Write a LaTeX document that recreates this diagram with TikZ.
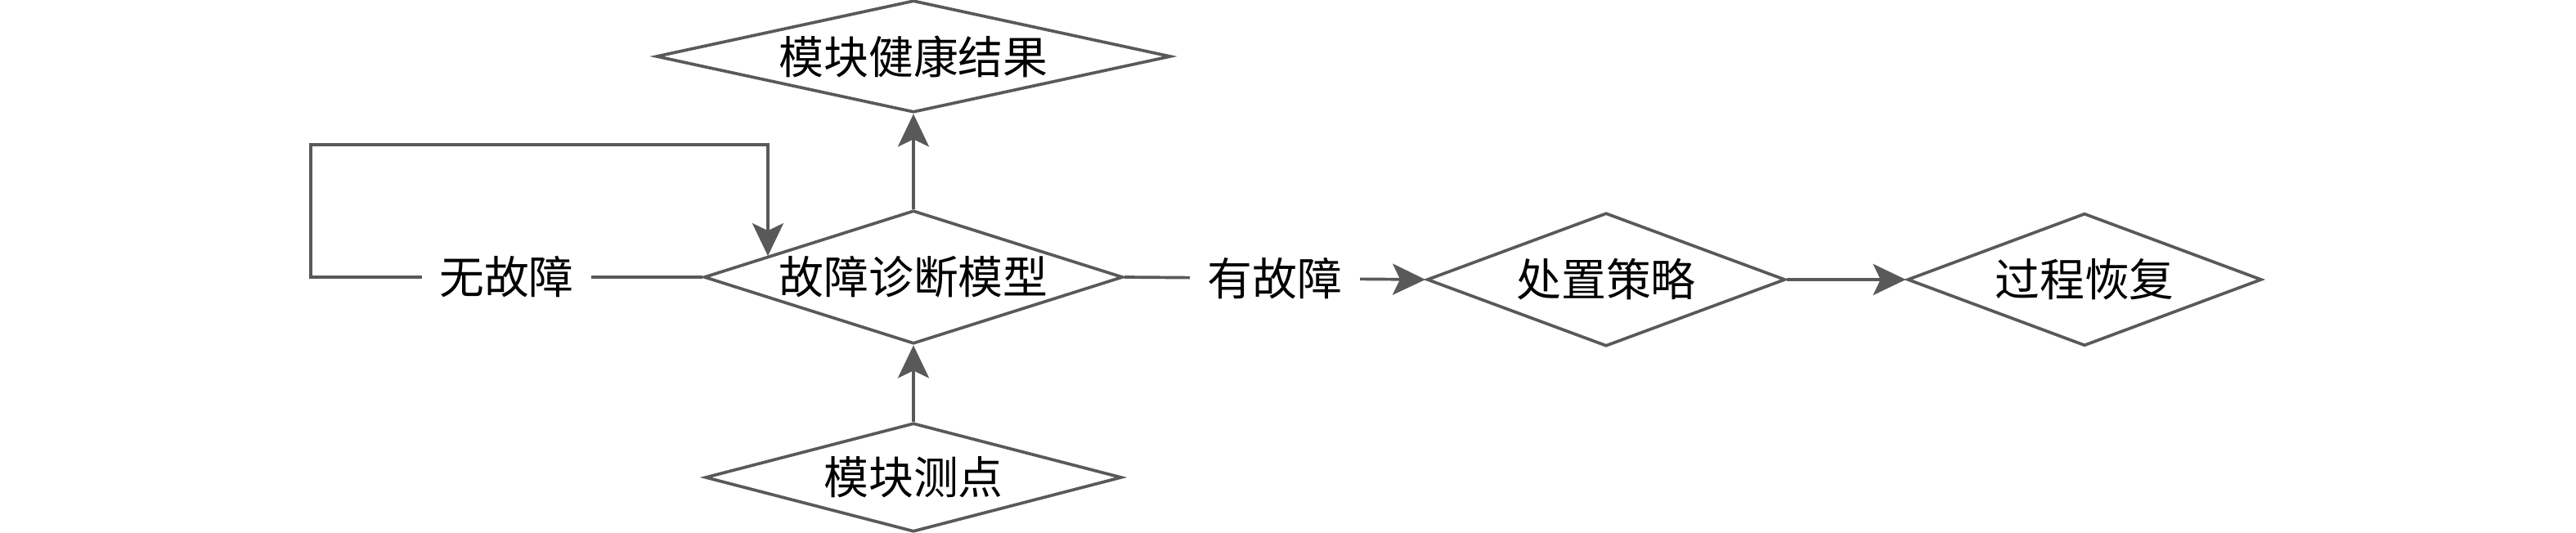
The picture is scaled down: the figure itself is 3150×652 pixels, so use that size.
\documentclass[tikz,border=0pt]{standalone}
\usepackage{fontspec}
\newfontfamily\cjk{Noto Sans CJK SC}
\usetikzlibrary{shapes.geometric,arrows.meta,calc}
\definecolor{lin}{RGB}{89,89,89}
\tikzset{
  dia/.style={diamond, draw=lin, line width=1.05pt, inner sep=0pt, text=black,
    font=\cjk\fontsize{15.6pt}{18pt}\selectfont},
  arr/.style={draw=lin, line width=1.05pt,
    -{Stealth[length=0.4cm, width=0.38cm, inset=0.09cm]}},
  lbl/.style={fill=white, inner sep=0pt, minimum width=2.07cm, minimum height=0.6cm,
    text=black, font=\cjk\fontsize{15.6pt}{18pt}\selectfont}
}
\begin{document}
\begin{tikzpicture}[x=0.01cm, y=-0.01cm]
\path[use as bounding box] (0,0) rectangle (3150,652);
\node[dia, minimum width=6.29cm, minimum height=1.37cm, aspect=4.6] (top) at (1117,69) {模块健康结果};
\node[dia, minimum width=5.12cm, minimum height=1.63cm, aspect=3.14] (mid) at (1117,339) {故障诊断模型};
\node[dia, minimum width=5.09cm, minimum height=1.33cm, aspect=3.83] (bot) at (1117,584) {模块测点};
\node[dia, minimum width=4.38cm, minimum height=1.63cm, aspect=2.69] (cz) at (1964,342) {处置策略};
\node[dia, minimum width=4.33cm, minimum height=1.62cm, aspect=2.67] (hf) at (2549,342) {过程恢复};
\coordinate (mtin) at ($(mid.west)!0.31!(mid.north)$);
\coordinate (lb) at (380,339);
\coordinate (lt) at (380,177);
\draw[arr] (mid.west) -- node[lbl]{无故障} (lb) -- (lt) -- (lt -| mtin) -- (mtin);
\draw[arr] (mid.north) -- (top.south);
\draw[arr] (bot.north) -- (mid.south);
\draw[arr] (mid.east) -- node[lbl]{有故障} (cz.west);
\draw[arr] (cz.east) -- (hf.west);
\end{tikzpicture}
\end{document}
